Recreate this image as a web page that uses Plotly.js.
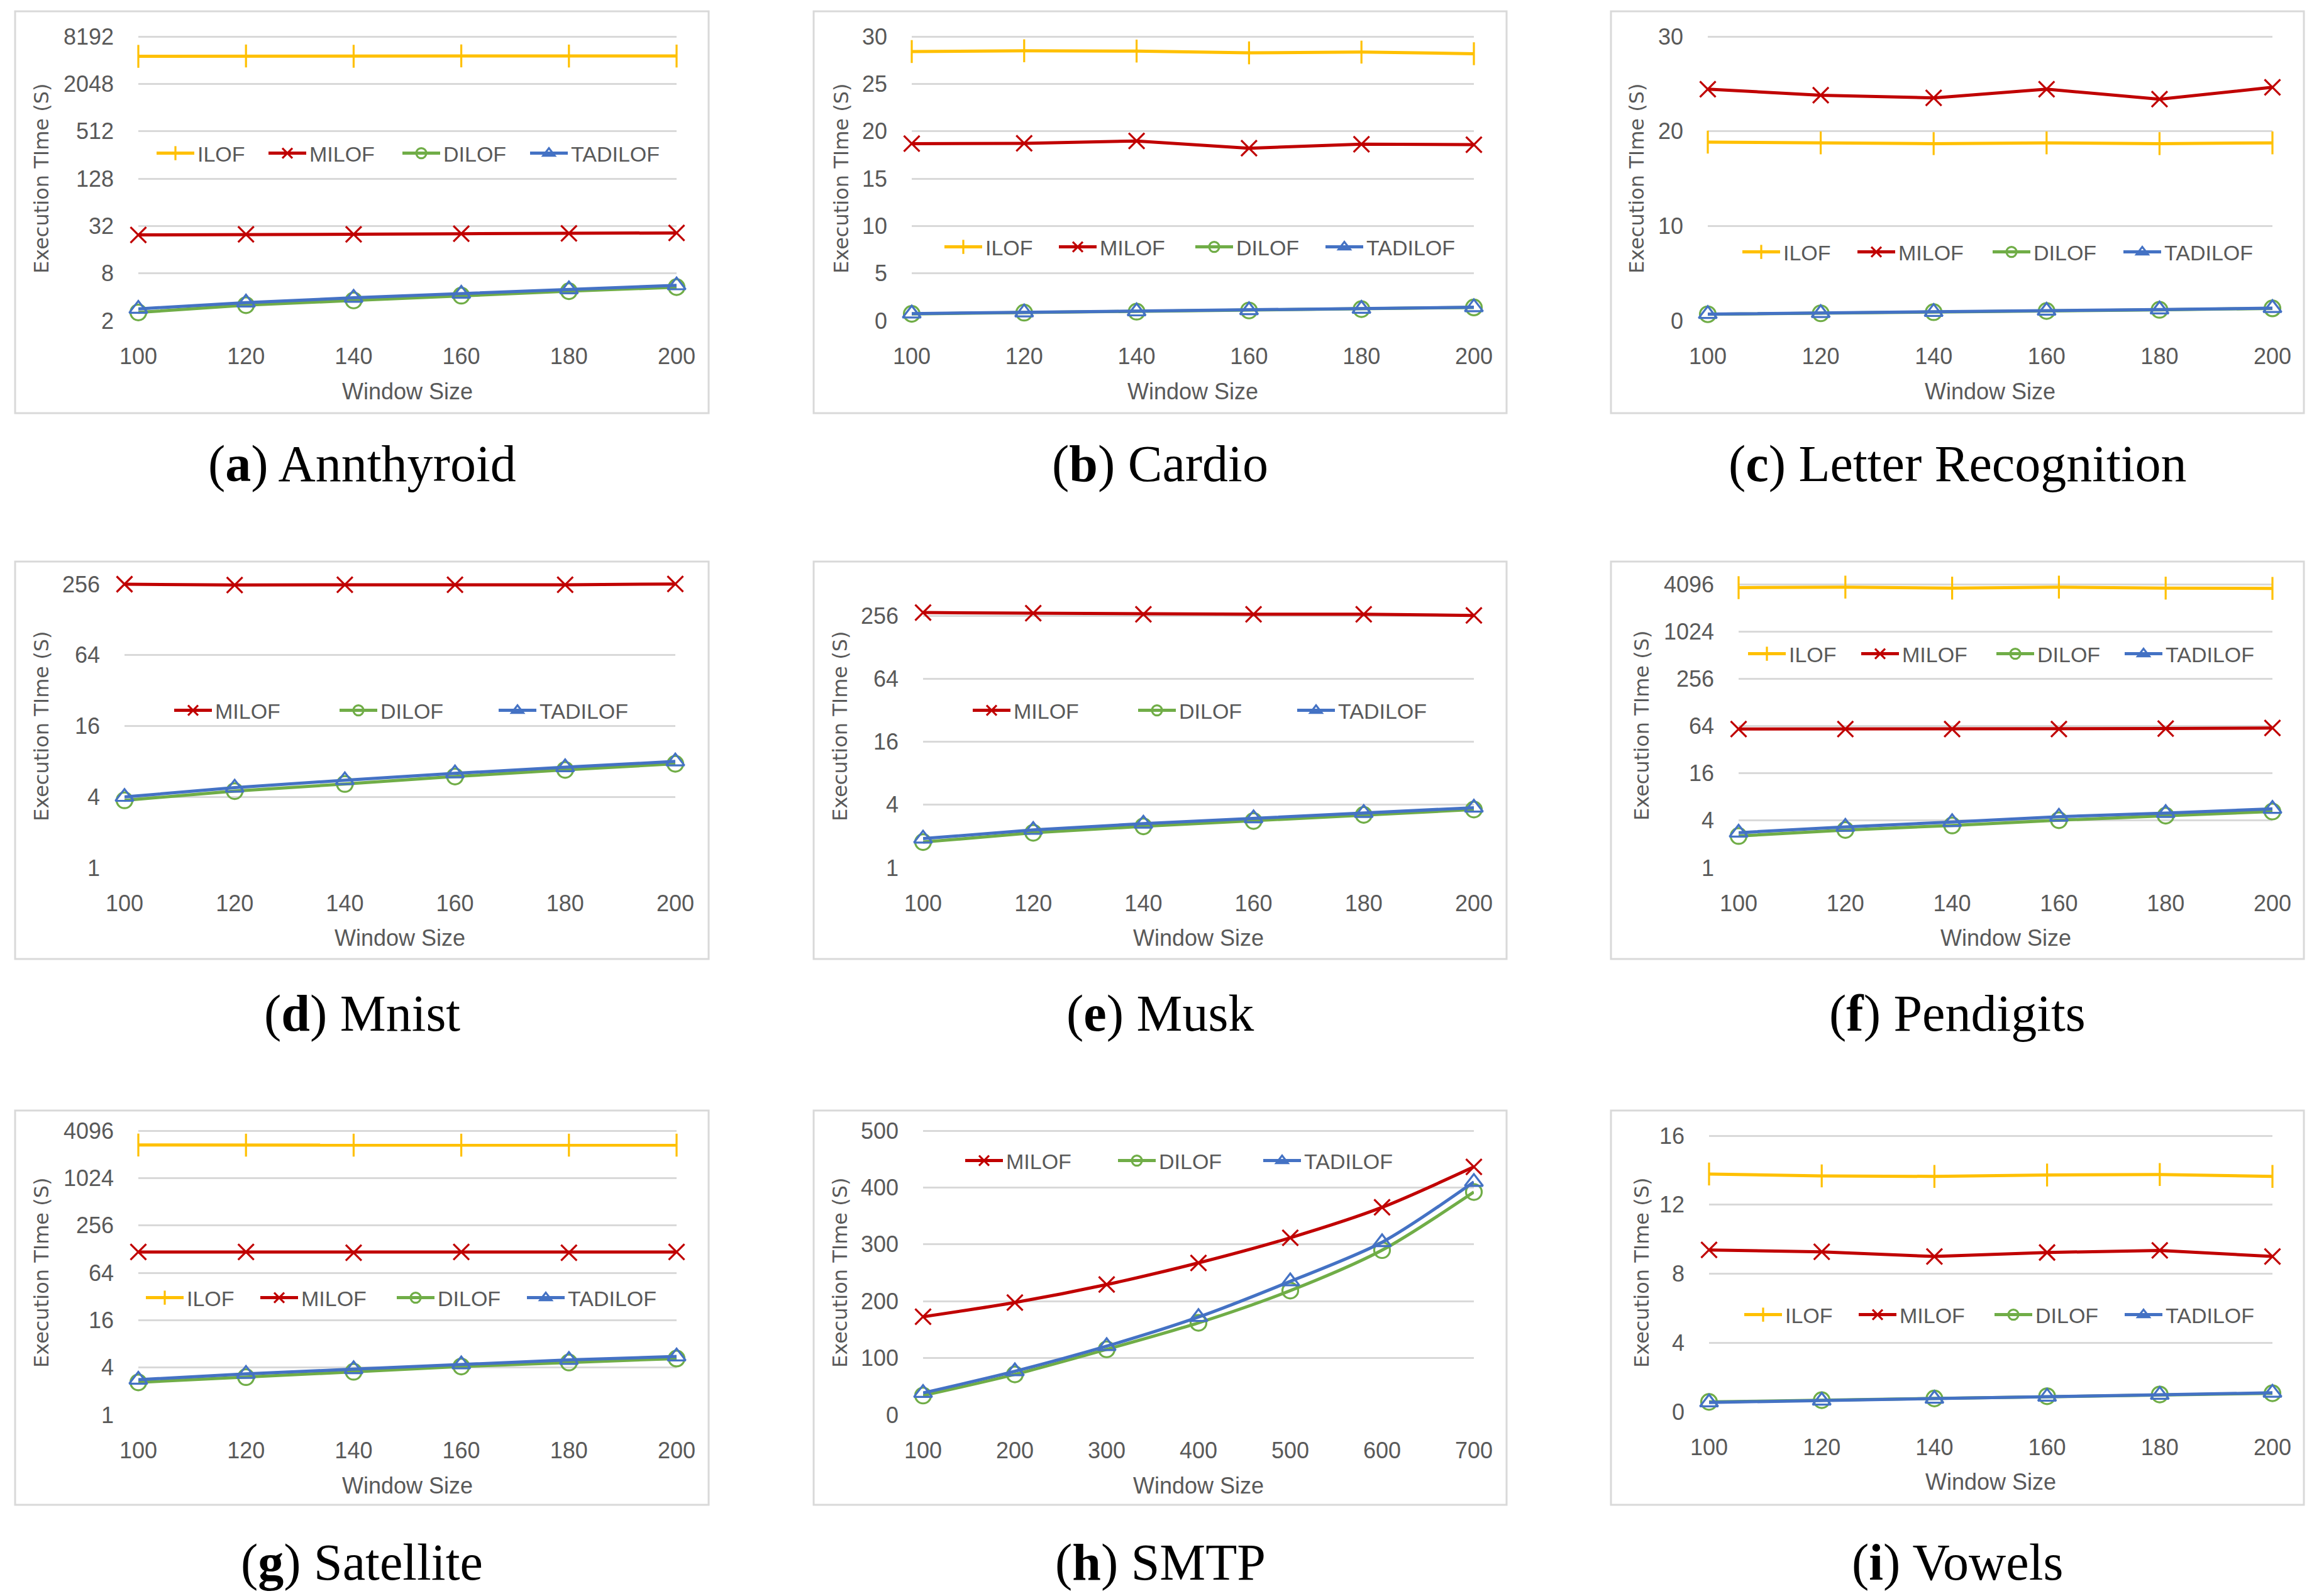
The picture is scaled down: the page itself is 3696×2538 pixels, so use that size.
<!DOCTYPE html>
<html><head><meta charset="utf-8">
<script src="https://cdn.plot.ly/plotly-3.0.1.min.js"></script>
<style>html,body{margin:0;padding:0;background:#fff;overflow:hidden}#chart{width:3696px;height:2538px}</style>
</head><body><div id="chart"></div>
<script>
// ---------------- DATA ----------------
const windowSizes = [100, 120, 140, 160, 180, 200];
const smtpWindowSizes = [100, 200, 300, 400, 500, 600, 700];
const methodNames = ['ILOF', 'MILOF', 'DILOF', 'TADILOF'];
const captionLetters = ['a','b','c','d','e','f','g','h','i'];
const datasetNames = ['Annthyroid','Cardio','Letter Recognition','Mnist','Musk','Pendigits','Satellite','SMTP','Vowels'];
const yAxisTitle = 'Execution TIme (S)';
const xAxisTitle = 'Window Size';

const annthyroidILOF    = [4580, 4630, 4590, 4640, 4620, 4620];
const annthyroidMILOF   = [24.6, 25.1, 25.1, 25.5, 25.8, 26.1];
const annthyroidDILOF   = [2.55, 3.15, 3.62, 4.16, 4.74, 5.34];
const annthyroidTADILOF = [2.83, 3.40, 3.91, 4.40, 5.01, 5.63];

const cardioILOF    = [28.41, 28.49, 28.46, 28.27, 28.35, 28.18];
const cardioMILOF   = [18.69, 18.72, 18.97, 18.21, 18.63, 18.58];
const cardioDILOF   = [0.72, 0.85, 0.95, 1.08, 1.22, 1.40];
const cardioTADILOF = [0.75, 0.87, 0.98, 1.10, 1.25, 1.42];

const letterILOF    = [18.85, 18.77, 18.69, 18.77, 18.69, 18.77];
const letterMILOF   = [24.44, 23.80, 23.52, 24.44, 23.38, 24.64];
const letterDILOF   = [0.68, 0.78, 0.90, 1.02, 1.15, 1.30];
const letterTADILOF = [0.70, 0.80, 0.92, 1.05, 1.18, 1.33];

const mnistMILOF   = [256, 252, 253, 253, 253, 257];
const mnistDILOF   = [3.74, 4.48, 5.15, 5.96, 6.78, 7.64];
const mnistTADILOF = [4.00, 4.79, 5.54, 6.34, 7.14, 8.00];

const muskMILOF   = [274, 270, 264, 264, 264, 257];
const muskDILOF   = [1.76, 2.16, 2.49, 2.80, 3.20, 3.60];
const muskTADILOF = [1.90, 2.30, 2.64, 2.97, 3.34, 3.75];

const pendigitsILOF    = [3700, 3760, 3650, 3760, 3650, 3620];
const pendigitsMILOF   = [58.5, 58.5, 58.5, 58.5, 59.4, 60.3];
const pendigitsDILOF   = [2.54, 3.03, 3.46, 4.04, 4.61, 5.21];
const pendigitsTADILOF = [2.80, 3.32, 3.82, 4.47, 4.98, 5.63];

const satelliteILOF    = [2690, 2680, 2680, 2680, 2680, 2680];
const satelliteMILOF   = [117.5, 117.5, 115, 117.5, 115, 117.5];
const satelliteDILOF   = [2.59, 3.02, 3.53, 4.12, 4.63, 5.20];
const satelliteTADILOF = [2.80, 3.32, 3.81, 4.38, 5.00, 5.53];

const smtpMILOF   = [172.6, 197.7, 229.3, 267.4, 311.6, 365.1, 436.3];
const smtpDILOF   = [34.0, 71.2, 115.3, 161.9, 218.6, 289.8, 392.1];
const smtpTADILOF = [38.6, 76.7, 120.9, 172.1, 234.9, 303.7, 409.8];

const vowelsILOF    = [13.78, 13.67, 13.64, 13.72, 13.75, 13.64];
const vowelsMILOF   = [9.38, 9.27, 9.00, 9.23, 9.35, 9.00];
const vowelsDILOF   = [0.57, 0.67, 0.77, 0.90, 1.00, 1.07];
const vowelsTADILOF = [0.54, 0.64, 0.75, 0.87, 0.98, 1.10];

const ticksA = [2, 8, 32, 128, 512, 2048, 8192];
const ticksB = [0, 5, 10, 15, 20, 25, 30];
const ticksC = [0, 10, 20, 30];
const ticksD = [1, 4, 16, 64, 256];
const ticksE = [1, 4, 16, 64, 256];
const ticksF = [1, 4, 16, 64, 256, 1024, 4096];
const ticksG = [1, 4, 16, 64, 256, 1024, 4096];
const ticksH = [0, 100, 200, 300, 400, 500];
const ticksI = [0, 4, 8, 12, 16];

// --------------- STYLE / LAYOUT ----------------
const W = 3696, H = 2538;
const colors = {ILOF:'#FFC000', MILOF:'#C00000', DILOF:'#70AD47', TADILOF:'#4472C4'};
const symbols = {ILOF:'line-ns', MILOF:'x-thin', DILOF:'circle-open', TADILOF:'triangle-up-open'};
const msize = {ILOF:26, MILOF:25, DILOF:25, TADILOF:25};
const grey = '#595959';
const tickFont = {family:'Liberation Sans, Arial, sans-serif', size:36, color:grey};

const panelSeries = [
  {x: windowSizes, s: {ILOF:annthyroidILOF, MILOF:annthyroidMILOF, DILOF:annthyroidDILOF, TADILOF:annthyroidTADILOF}, ticks: ticksA},
  {x: windowSizes, s: {ILOF:cardioILOF, MILOF:cardioMILOF, DILOF:cardioDILOF, TADILOF:cardioTADILOF}, ticks: ticksB},
  {x: windowSizes, s: {ILOF:letterILOF, MILOF:letterMILOF, DILOF:letterDILOF, TADILOF:letterTADILOF}, ticks: ticksC},
  {x: windowSizes, s: {MILOF:mnistMILOF, DILOF:mnistDILOF, TADILOF:mnistTADILOF}, ticks: ticksD},
  {x: windowSizes, s: {MILOF:muskMILOF, DILOF:muskDILOF, TADILOF:muskTADILOF}, ticks: ticksE},
  {x: windowSizes, s: {ILOF:pendigitsILOF, MILOF:pendigitsMILOF, DILOF:pendigitsDILOF, TADILOF:pendigitsTADILOF}, ticks: ticksF},
  {x: windowSizes, s: {ILOF:satelliteILOF, MILOF:satelliteMILOF, DILOF:satelliteDILOF, TADILOF:satelliteTADILOF}, ticks: ticksG},
  {x: smtpWindowSizes, s: {MILOF:smtpMILOF, DILOF:smtpDILOF, TADILOF:smtpTADILOF}, ticks: ticksH, spline:true},
  {x: windowSizes, s: {ILOF:vowelsILOF, MILOF:vowelsMILOF, DILOF:vowelsDILOF, TADILOF:vowelsTADILOF}, ticks: ticksI}
];

// pixel geometry of each panel (positions only)
const rowsY = [[18,657],[893,1525],[1766,2393]];
const colsX = [[24,1127],[1294,2396],[2562,3664]];
const capY = [738, 1611, 2484];
const geo = [
  {x0:220, x1:1076, yt:58,  yb:510,  log:true,  ytc:284,  yTitleX:66,   xTitleY:622,  legY:244,  legX:[250,428,641,844]},
  {x0:1450,x1:2344, yt:58,  yb:510,  log:false, ytc:284,  yTitleX:1338, xTitleY:622,  legY:393,  legX:[1503,1685,1902,2109]},
  {x0:2716,x1:3614, yt:58,  yb:510,  log:false, ytc:284,  yTitleX:2603, xTitleY:622,  legY:401,  legX:[2772,2955,3170,3378]},
  {x0:198, x1:1074, yt:929, yb:1380, log:true,  ytc:1155, yTitleX:66,   xTitleY:1491, legY:1130, legX:[278,541,794]},
  {x0:1468,x1:2344, yt:979, yb:1380, log:true,  ytc:1155, yTitleX:1336, xTitleY:1491, legY:1130, legX:[1548,1811,2064]},
  {x0:2765,x1:3614, yt:929, yb:1380, log:true,  ytc:1154, yTitleX:2611, xTitleY:1491, legY:1040, legX:[2781,2961,3176,3380]},
  {x0:220, x1:1076, yt:1798,yb:2250, log:true,  ytc:2024, yTitleX:66,   xTitleY:2362, legY:2064, legX:[233,415,632,839]},
  {x0:1468,x1:2344, yt:1798,yb:2250, log:false, ytc:2024, yTitleX:1336, xTitleY:2362, legY:1846, legX:[1536,1779,2010]},
  {x0:2718,x1:3614, yt:1806,yb:2245, log:false, ytc:2024, yTitleX:2611, xTitleY:2356, legY:2091, legX:[2775,2957,3173,3380]}
];
const topPad = 45;

const traces = [];
const layout = {
  width: W, height: H, margin:{l:0,r:0,t:0,b:0,pad:0,autoexpand:false},
  paper_bgcolor:'#ffffff', plot_bgcolor:'rgba(0,0,0,0)',
  showlegend: true, annotations: [], shapes: []
};

let legendCount = 0;
geo.forEach((g, i) => {
  const n = i + 1;
  const xa = 'xaxis' + (n === 1 ? '' : n), ya = 'yaxis' + (n === 1 ? '' : n);
  const xr = 'x' + (n === 1 ? '' : n), yr = 'y' + (n === 1 ? '' : n);
  const P = panelSeries[i];
  const tv = P.ticks;
  const vTop = tv[tv.length - 1], vBot = tv[0];
  const f = g.log ? Math.log10 : (v => v);
  const per = (f(vTop) - f(vBot)) / (g.yb - g.yt);
  const rTop = f(vTop) + topPad * per;
  layout[xa] = {
    domain: [g.x0 / W, g.x1 / W], range: [P.x[0], P.x[P.x.length - 1]], anchor: yr,
    tickvals: P.x, ticktext: P.x.map(String), showgrid: false, zeroline: false, showline: false,
    ticks: '', ticklabelstandoff: 32, tickfont: tickFont, fixedrange: true, automargin: false
  };
  layout[ya] = {
    type: g.log ? 'log' : 'linear',
    domain: [1 - g.yb / H, 1 - (g.yt - topPad) / H], range: [f(vBot), rTop], anchor: xr,
    tickvals: tv, ticktext: tv.map(String), showgrid: true, gridcolor: '#D9D9D9', gridwidth: 3,
    zeroline: false, showline: false, ticks: '', ticklabelstandoff: 38, tickfont: tickFont, fixedrange: true, automargin: false
  };
  let k = 0;
  methodNames.forEach(m => {
    if (!P.s[m]) return;
    legendCount++;
    const lg = 'legend' + (legendCount === 1 ? '' : legendCount);
    layout[lg] = {
      orientation: 'h', x: (g.legX[k] - 6) / W, y: 1 - g.legY / H, xanchor: 'left', yanchor: 'middle',
      itemwidth: 60, bgcolor: 'rgba(0,0,0,0)', borderwidth: 0,
      font: {family: tickFont.family, size: 34, color: grey},
      itemclick: false, itemdoubleclick: false
    };
    k++;
    traces.push({
      type: 'scatter', mode: 'lines+markers', name: m, x: P.x, y: P.s[m],
      xaxis: xr, yaxis: yr, legend: lg, cliponaxis: false,
      line: {color: colors[m], width: 5, shape: P.spline ? 'spline' : 'linear', smoothing: 0.8},
      marker: {symbol: symbols[m], size: msize[m], color: colors[m], line: {color: colors[m], width: 3.2}},
      hoverinfo: 'x+y+name'
    });
  });
  // axis titles
  layout.annotations.push({
    xref: 'paper', yref: 'paper', x: g.yTitleX / W, y: 1 - g.ytc / H, xanchor: 'center', yanchor: 'middle',
    text: yAxisTitle, textangle: -90, showarrow: false,
    font: {family: 'DejaVu Sans, sans-serif', size: 32, color: grey}
  });
  layout.annotations.push({
    xref: 'paper', yref: 'paper', x: (g.x0 + g.x1) / 2 / W, y: 1 - g.xTitleY / H, xanchor: 'center', yanchor: 'middle',
    text: xAxisTitle, showarrow: false, font: {family: tickFont.family, size: 36, color: grey}
  });
  // panel box
  const r = Math.floor(i / 3), c = i % 3;
  layout.shapes.push({
    type: 'rect', xref: 'paper', yref: 'paper',
    x0: colsX[c][0] / W, x1: colsX[c][1] / W, y0: 1 - rowsY[r][1] / H, y1: 1 - rowsY[r][0] / H,
    line: {color: '#D9D9D9', width: 3}, fillcolor: 'rgba(0,0,0,0)', layer: 'below'
  });
  // caption
  layout.annotations.push({
    xref: 'paper', yref: 'paper', x: (colsX[c][0] + colsX[c][1]) / 2 / W, y: 1 - capY[r] / H,
    xanchor: 'center', yanchor: 'middle', showarrow: false,
    text: '(<b>' + captionLetters[i] + '</b>) ' + datasetNames[i],
    font: {family: 'Liberation Serif, DejaVu Serif, serif', size: 82, color: '#000000'}
  });
});

Plotly.newPlot('chart', traces, layout, {staticPlot: true, displayModeBar: false});
</script></body></html>
